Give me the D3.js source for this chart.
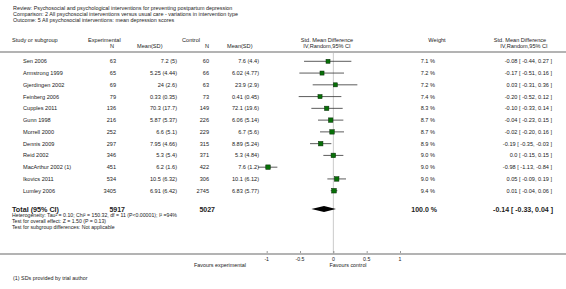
<!DOCTYPE html>
<html><head><meta charset="utf-8">
<script src="https://cdn.jsdelivr.net/npm/d3@7"></script>
<style>body{margin:0;background:#fff}svg{display:block}text{font-family:"Liberation Sans",Arial,sans-serif;fill:#222}</style>
</head><body>
<script>
const studies = ["Sen 2006","Armstrong 1999","Gjerdingen 2002","Feinberg 2006","Cupples 2011","Gunn 1998","Morrell 2000","Dennis 2009","Reid 2002","MacArthur 2002 (1)","Ikovics 2011","Lumley 2006"];
const expN = [63,65,69,79,136,216,252,297,346,451,534,3405];
const expMean = ["7.2 (5)","5.25 (4.44)","24 (2.6)","0.33 (0.35)","70.3 (17.7)","5.87 (5.37)","6.6 (5.1)","7.95 (4.66)","5.3 (5.4)","6.2 (1.6)","10.5 (6.32)","6.91 (6.42)"];
const ctlN = [60,66,63,73,149,226,229,315,371,422,306,2745];
const ctlMean = ["7.6 (4.4)","6.02 (4.77)","23.9 (2.9)","0.41 (0.45)","72.1 (19.6)","6.06 (5.14)","6.7 (5.6)","8.89 (5.24)","5.3 (4.84)","7.6 (1.2)","10.1 (6.12)","6.83 (5.77)"];
const smd = [-0.08,-0.17,0.03,-0.20,-0.10,-0.04,-0.02,-0.19,0.0,-0.98,0.05,0.01];
const lo = [-0.44,-0.51,-0.31,-0.52,-0.33,-0.23,-0.20,-0.35,-0.15,-1.13,-0.09,-0.04];
const hi = [0.27,0.16,0.36,0.12,0.14,0.15,0.16,-0.03,0.15,-0.84,0.19,0.06];
const smdLabel = ["-0.08","-0.17","0.03","-0.20","-0.10","-0.04","-0.02","-0.19","0.0","-0.98","0.05","0.01"];
const loLabel = ["-0.44","-0.51","-0.31","-0.52","-0.33","-0.23","-0.20","-0.35","-0.15","-1.13","-0.09","-0.04"];
const hiLabel = ["0.27","0.16","0.36","0.12","0.14","0.15","0.16","-0.03","0.15","-0.84","0.19","0.06"];
const weights = [7.1,7.2,7.2,7.4,8.3,8.7,8.7,8.9,9.0,9.0,9.0,9.4];
const total = {expN:5917, ctlN:5027, est:-0.14, lo:-0.33, hi:0.04, label:"-0.14 [ -0.33, 0.04 ]", weight:"100.0 %"};
const tickValues = [-1,-0.5,0,0.5,1];
const tickLabels = ["-1","-0.5","0","0.5","1"];
const titleLines = ["Review:  Psychosocial and psychological interventions for preventing postpartum depression","Comparison:  2 All psychosocial interventions versus usual care - variations in intervention type","Outcome:  5 All psychosocial interventions: mean depression scores"];
const footLines = ["Heterogeneity: Tau\u00b2 = 0.10; Chi\u00b2 = 150.32, df = 11 (P<0.00001); I\u00b2 =94%","Test for overall effect: Z = 1.50 (P = 0.13)","Test for subgroup differences: Not applicable"];

const W=566,H=289;
const svg=d3.select("body").append("svg").attr("width",W).attr("height",H);
const fs=5.6;
const x=d3.scaleLinear().domain([-1,1]).range([266.7,400]);
const y=d3.scaleLinear().domain([0,studies.length-1]).range([61.3,190.7]);
const sz=d3.scaleSqrt().domain([0,10]).range([0,4.8]);

function txt(t,xx,yy,anchor,opts={}){
  return svg.append("text").attr("x",xx).attr("y",yy).attr("text-anchor",anchor||"start")
    .attr("dominant-baseline","central").attr("font-size",opts.size||fs).attr("font-weight",opts.bold?"bold":null).text(t);
}
titleLines.forEach((t,i)=>txt(t,13,8+i*5.8,"start",{size:5.4}));

// headers
txt("Study or subgroup",12,39.5);
txt("Experimental",88,39.5);
txt("N",114,46,"end");
txt("Mean(SD)",137,46);
txt("Control",182,39.5);
txt("N",209,46,"end");
txt("Mean(SD)",227,46);
txt("Std. Mean Difference",327,39.5,"middle");
txt("IV,Random,95% CI",327,46,"middle");
txt("Weight",437,39.5,"middle");
txt("Std. Mean Difference",520,39.5,"middle");
txt("IV,Random,95% CI",524,46,"middle");

svg.append("line").attr("x1",0).attr("x2",W).attr("y1",52).attr("y2",52).attr("stroke","#9a9a9a").attr("stroke-width",1.5);

// zero line
svg.append("line").attr("x1",x(0)).attr("x2",x(0)).attr("y1",53).attr("y2",254).attr("stroke","#bdbdbd").attr("stroke-width",0.8);

// rows
const g=svg.append("g");
studies.forEach((s,i)=>{
  const yy=y(i);
  txt(s,23,yy);
  txt(expN[i],116,yy,"end");
  txt(expMean[i],177,yy,"end");
  txt(ctlN[i],209,yy,"end");
  txt(ctlMean[i],259,yy,"end");
  txt(weights[i].toFixed(1)+" %",435,yy,"end");
  txt(smdLabel[i]+" [ "+loLabel[i]+", "+hiLabel[i]+" ]",552,yy,"end");
  g.append("line").attr("x1",x(lo[i])).attr("x2",x(hi[i])).attr("y1",yy).attr("y2",yy).attr("stroke","#333").attr("stroke-width",0.8);
  const s2=sz(weights[i]);
  g.append("rect").attr("x",x(smd[i])-s2/2).attr("y",yy-s2/2).attr("width",s2).attr("height",s2)
   .attr("fill","#077007").attr("stroke","#0a2a0a").attr("stroke-width",0.5);
});

// total
const ty=209;
txt("Total (95% CI)",12,ty,"start",{bold:true,size:7.2});
txt(total.expN,125,ty,"end",{bold:true,size:7});
txt(total.ctlN,215,ty,"end",{bold:true,size:7});
txt(total.weight,437,ty,"end",{bold:true,size:7});
txt(total.label,553,ty,"end",{bold:true,size:7});
svg.append("path").attr("d",`M${x(total.lo)},${ty} L${x(total.est)},${ty-3} L${x(total.hi)},${ty} L${x(total.est)},${ty+3} Z`).attr("fill","#000");
footLines.forEach((t,i)=>txt(t,12,215+i*5.8,"start",{size:5.2}));

// axis
svg.append("line").attr("x1",0).attr("x2",W).attr("y1",254).attr("y2",254).attr("stroke","#9a9a9a").attr("stroke-width",1.5);
const ax=svg.append("g").attr("transform","translate(0,253)")
  .call(d3.axisTop(x).tickValues(tickValues).tickSize(2).tickFormat(""));
ax.select(".domain").remove();
ax.selectAll("line").attr("stroke","#555").attr("stroke-width",0.6);
tickValues.forEach((v,i)=>txt(tickLabels[i],x(v),259,"middle",{size:5.2}));
txt("Favours experimental",220,265,"middle",{size:5.4});
txt("Favours control",348,265,"middle",{size:5.4});
txt("(1) SDs provided by trial author",13,278,"start",{size:5.4});
</script>
</body></html>
